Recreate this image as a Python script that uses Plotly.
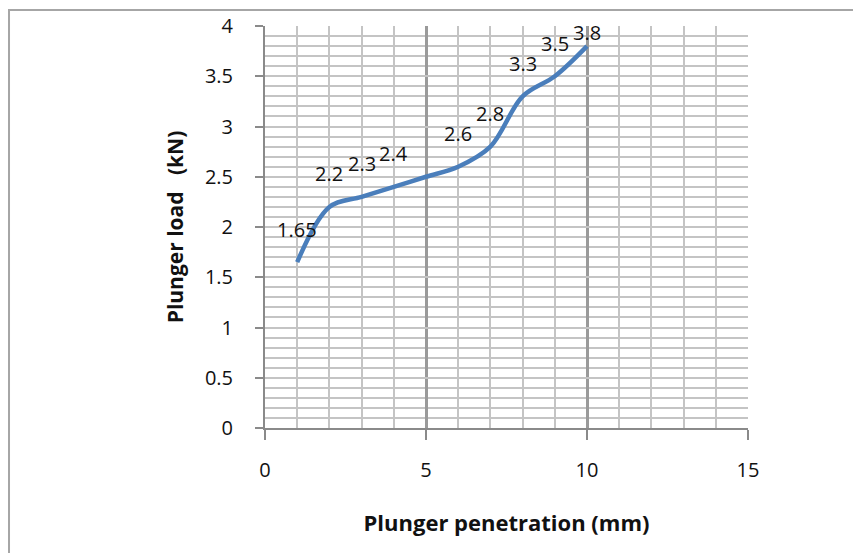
import plotly.graph_objects as go

# Data
penetration_mm = [1, 2, 3, 4, 5, 6, 7, 8, 9, 10]
load_kN = [1.65, 2.2, 2.3, 2.4, 2.5, 2.6, 2.8, 3.3, 3.5, 3.8]
point_labels = ["1.65", "2.2", "2.3", "2.4", "", "2.6", "2.8", "3.3", "3.5", "3.8"]
x_ticks = [0, 5, 10, 15]
y_ticks = [0, 0.5, 1, 1.5, 2, 2.5, 3, 3.5, 4]

NUM_FONT = "Open Sans"
TITLE_FONT = "Open Sans"
TEXT_COLOR = "#111111"

fig = go.Figure()
fig.add_trace(go.Scatter(
    x=penetration_mm, y=load_kN, mode="lines",
    line=dict(color="#4A7EBB", width=4.5, shape="spline", smoothing=1.0),
    showlegend=False, hoverinfo="skip",
))

for xv, yv, t in zip(penetration_mm, load_kN, point_labels):
    if not t:
        continue
    fig.add_annotation(
        x=xv, y=yv, text=t, showarrow=False,
        yshift=33 if yv < 3.7 else 14,
        font=dict(family=NUM_FONT, size=20, color=TEXT_COLOR),
    )

fig.update_layout(
    width=853, height=553, autosize=False,
    margin=dict(l=265, r=105, t=22, b=125),
    paper_bgcolor="white", plot_bgcolor="white",
    shapes=[dict(type="rect", xref="paper", yref="paper",
                 x0=-0.530, x1=1.4, y0=-0.5, y1=1.0395,
                 line=dict(color="#a6a6a6", width=2), layer="below")],
)

fig.update_xaxes(
    range=[0, 15], tickmode="array", tickvals=x_ticks,
    ticks="outside", ticklen=10, tickwidth=2, tickcolor="#8a8a8a",
    showline=True, linecolor="#8a8a8a", linewidth=2,
    showgrid=True, gridcolor="#9a9a9a", gridwidth=2.5,
    minor=dict(dtick=1, showgrid=True, gridcolor="#c4c4c4", gridwidth=2, ticks=""),
    zeroline=False,
    tickfont=dict(family=NUM_FONT, size=20, color=TEXT_COLOR),
    ticklabelstandoff=13,
    title=dict(text="<b>Plunger penetration (mm)</b>",
               font=dict(family=TITLE_FONT, size=22, color=TEXT_COLOR), standoff=34),
)
fig.update_yaxes(
    range=[0, 4], tickmode="array", tickvals=y_ticks,
    ticks="outside", ticklen=8, tickwidth=2, tickcolor="#8a8a8a",
    showline=True, linecolor="#8a8a8a", linewidth=2,
    showgrid=True, gridcolor="#c4c4c4", gridwidth=2,
    minor=dict(dtick=0.1, showgrid=True, gridcolor="#c4c4c4", gridwidth=2, ticks=""),
    zeroline=False,
    tickfont=dict(family=NUM_FONT, size=20, color=TEXT_COLOR),
    ticklabelstandoff=18,
    title=dict(text="<b>Plunger load&nbsp;&nbsp; (kN)</b>",
               font=dict(family=TITLE_FONT, size=21, color=TEXT_COLOR), standoff=16),
)

fig.write_html("out.html")
